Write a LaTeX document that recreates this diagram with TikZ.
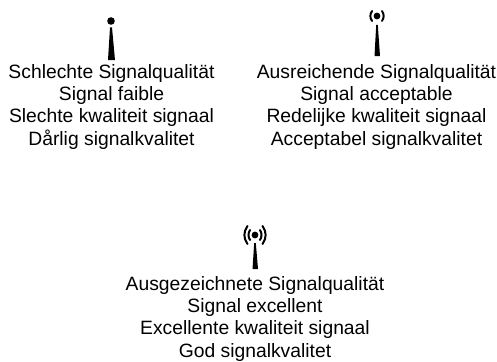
\documentclass[tikz,border=0pt]{standalone}
\usepackage{fontspec}
\setmainfont{Liberation Sans}
\tikzset{x=1pt,y=-1pt,
 caption/.style={align=center,inner sep=0pt,anchor=north,font=\fontsize{19.3}{22.3}\selectfont},
 wave/.style={line width=2pt,line cap=round}}
\begin{document}
\begin{tikzpicture}
\useasboundingbox (0,0) rectangle (497,361);
% icon 1
\fill (111,21) circle (3.8);
\fill (110,27.5) -- (112,27.5) -- (115,60) -- (108,60) -- cycle;
% icon 2
\fill (377,16) circle (3.4);
\fill (376.2,25) -- (377.8,25) -- (380,56) -- (374.5,56) -- cycle;
\draw[wave] (372,11) .. controls (369.8,14.3) and (369.8,17.7) .. (372,21);
\draw[wave] (382,11) .. controls (384.2,14.3) and (384.2,17.7) .. (382,21);
% icon 3
\fill (255,235) circle (3.4);
\fill (254.2,243) -- (255.8,243) -- (258,269) -- (252.5,269) -- cycle;
\draw[wave] (250,230) .. controls (248,233.3) and (248,236.7) .. (250,240);
\draw[wave] (260,230) .. controls (262,233.3) and (262,236.7) .. (260,240);
\draw[wave] (247.5,226) .. controls (243.3,232) and (243.3,238) .. (247.5,244);
\draw[wave] (262.5,226) .. controls (266.7,232) and (266.7,238) .. (262.5,244);
% captions
\node[caption] (a) at (111.5,64) {Schlechte Signalqualität\\Signal faible\\Slechte kwaliteit signaal\\Dårlig signalkvalitet};
\node[caption] (b) at (376.5,64) {Ausreichende Signalqualität\\Signal acceptable\\Redelijke kwaliteit signaal\\Acceptabel signalkvalitet};
\node[caption] (c) at (255,276) {Ausgezeichnete Signalqualität\\Signal excellent\\Excellente kwaliteit signaal\\God signalkvalitet};
\end{tikzpicture}
\end{document}
